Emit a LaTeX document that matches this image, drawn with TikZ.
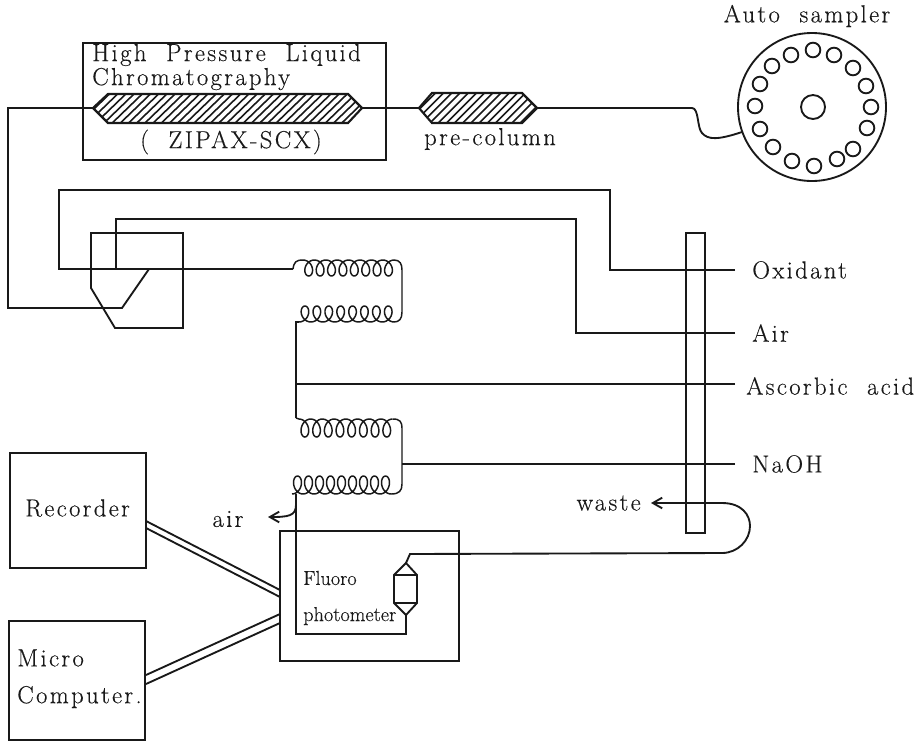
\documentclass[tikz,border=0pt]{standalone}
\usepackage{fontspec}
\newfontfamily\lblfont[LetterSpace=9.5,WordSpace=2,FakeBold=0.3]{Latin Modern Roman}
\newfontfamily\lblpfont[FakeBold=0.2]{Latin Modern Roman}
\usetikzlibrary{arrows.meta}
\tikzset{
  ln/.style={line width=1.4pt,black!90},
  thin ln/.style={line width=1.1pt,black!90},
  lbl/.style={font=\lblfont\fontsize{18.5}{21}\selectfont,inner sep=0pt,text=black!90},
  lblp/.style={font=\lblpfont\fontsize{15.2}{17}\selectfont,inner sep=0pt,text=black!90},
  vial/.style={circle,draw=black!90,line width=1.4pt,minimum size=11pt,inner sep=0pt},
  hatch/.style={line width=1.2pt,black!90},
  arr/.style={-{Straight Barb[length=7pt,width=8pt]}}
}
\newcommand{\coilplot}[6]{%
  \draw[thin ln] plot[samples=\numexpr 24*#6\relax,domain=0:360*#6,variable=\t,smooth]
    ({#1+\t/360*#3+#4*sin(\t)},{#2-#5*cos(\t)});}
\newcommand{\hcolumn}[7]{%
  \begin{scope}
    \clip (#1,#3) -- (#2,#4) -- (#5,#4) -- (#6,#3) -- (#5,#7) -- (#2,#7) -- cycle;
    \pgfmathsetmacro{\xs}{#1-30}
    \foreach \i in {0,...,40}{
      \draw[hatch] ({\xs+\i*8.2},#7) -- ++(30,{#4-#7});
    }
  \end{scope}
  \draw[ln,line width=1.6pt] (#1,#3) -- (#2,#4) -- (#5,#4) -- (#6,#3) -- (#5,#7) -- (#2,#7) -- cycle;}
\begin{document}
\begin{tikzpicture}[x=0.75pt,y=-0.75pt]
\useasboundingbox (0,0) rectangle (920,743);
\fill[white] (0,0) rectangle (920,743);
% coordinates
\coordinate (lead) at (8,108);
\coordinate (colL) at (93,108);
\coordinate (colR) at (362,108);
\coordinate (preL) at (419,108);
\coordinate (preR) at (537,108);
% HPLC
\draw[ln] (83,43) rectangle (386,160);
\hcolumn{93}{108}{108}{94}{348}{362}{123}
\hcolumn{419}{432}{108}{93}{522}{537}{123}
\draw[ln] (colR) -- (preL);
\draw[ln] (preR) -- (692,108) .. controls (699,108) and (697,128) .. (702,133)
   .. controls (708,140) and (718,140) .. (742,132);
\draw[ln] (colL) -- (lead) |- (122,308) -- (149,269);
% Auto sampler
\node[lbl] (autolabel) at (807,16) {Auto sampler};
\node[circle,draw=black!90,line width=1.4pt,minimum size=111pt,inner sep=0pt] (sampler) at (812,107) {};
\node[circle,draw=black!90,line width=1.4pt,minimum size=18pt,inner sep=0pt] (hub) at (813,107) {};
\foreach \px/\py [count=\i] in {813/50,834/55,853/68,866/86,871/107,867/128,853/149,837/159,814/166,792/161,773/147,760/129,755/106,760/84,772/66,791/55}{
  \node[vial] (v\i) at (\px,\py) {};
}
% valve
\draw[ln] (91,233) -- (183,233) -- (183,328) -- (115,328) -- (91,288) -- cycle;
\coordinate (ox) at (735,270);
\coordinate (airend) at (735,333);
\coordinate (ascend) at (735,384);
\coordinate (naend) at (735,464);
\draw[ln] (ox) -- (610,270) |- (59,190) |- (293,269);
\draw[ln] (airend) -- (576,333) |- (116,219) -- (116,269);
% coils
\coilplot{303}{268}{11.4}{6.5}{8}{8}
\draw[thin ln] (293,269) .. controls (294,262) and (296,260) .. (303,260);
\draw[thin ln] (394,260) .. controls (400,260) and (402,264) .. (402,270) -- (402,312) .. controls (402,319) and (399,322) .. (394,322);
\coilplot{299}{314}{11.9}{6.5}{-8}{8}
\draw[thin ln] (296,384) -- (296,322) -- (299,322);
\draw[ln] (ascend) -- (296,384) -- (296,418);
\coilplot{299}{428}{11.7}{6.5}{9}{8}
\draw[thin ln] (296,418) -- (299,419);
\draw[thin ln] (393,419) .. controls (400,419) and (402,422) .. (402,428) -- (402,484) .. controls (402,491) and (399,494) .. (391,494);
\coilplot{292}{485}{11}{6.5}{-9}{9}
\draw[ln] (naend) -- (402,464);
% pump tube
\draw[ln] (686,233) rectangle (705,533);
% waste loop
\node[lbl,anchor=east] (wastelbl) at (641,503) {waste};
\draw[ln,arr] (700,503) -- (651,503);
\draw[ln] (700,503) -- (722,503) .. controls (742,503) and (750,515) .. (750,526)
  .. controls (750,540) and (738,553) .. (722,553) -- (410,554) -- (406,563);
% fluorometer
\draw[ln] (280,531) rectangle (459,661);
\draw[ln] (296,494) -- (296,634) -- (406,634) -- (406,615);
\draw[ln] (406,563) -- (394,575) -- (394,603) -- (406,615) -- (417,603) -- (417,575) -- cycle;
\draw[ln] (394,575) -- (417,575) (394,603) -- (417,603);
\draw[ln,arr] (296,505) .. controls (296,516) and (288,517) .. (268,517);
\node[lblp,anchor=west] (f1) at (303,578) {Fluoro};
\node[lblp,anchor=west] (f2) at (303,616) {photometer};
% recorder, computer
\draw[ln] (10,453) rectangle (146,568);
\draw[ln] (9,621) rectangle (145,740);
\node[lbl,anchor=west] (rec) at (25,508) {Recorder};
\node[lbl,anchor=west] (mc1) at (17,658) {Micro};
\node[lbl,anchor=west] (mc2) at (17,697) {Computer.};
\draw[ln] (146,521) -- (280,590) (146,528) -- (280,597);
\draw[ln] (146,675) -- (280,614) (146,684) -- (280,623);
% labels
\node[lbl,anchor=west] (l1) at (92,55) {High Pressure Liquid};
\node[lbl,anchor=west] (l2) at (92,79) {Chromatography};
\node[lbl] (l3) at (231,142) {( ZIPAX-SCX)};
\node[lbl] (l4) at (490,139) {pre-column};
\node[lbl,anchor=west] (ox1) at (752,270) {Oxidant};
\node[lbl,anchor=west] (air1) at (752,333) {Air};
\node[lbl,anchor=west] (asc) at (746,386) {Ascorbic acid};
\node[lbl,anchor=west] (na) at (752,464) {NaOH};
\node[lbl] (airl) at (228,519) {air};
\end{tikzpicture}
\end{document}
